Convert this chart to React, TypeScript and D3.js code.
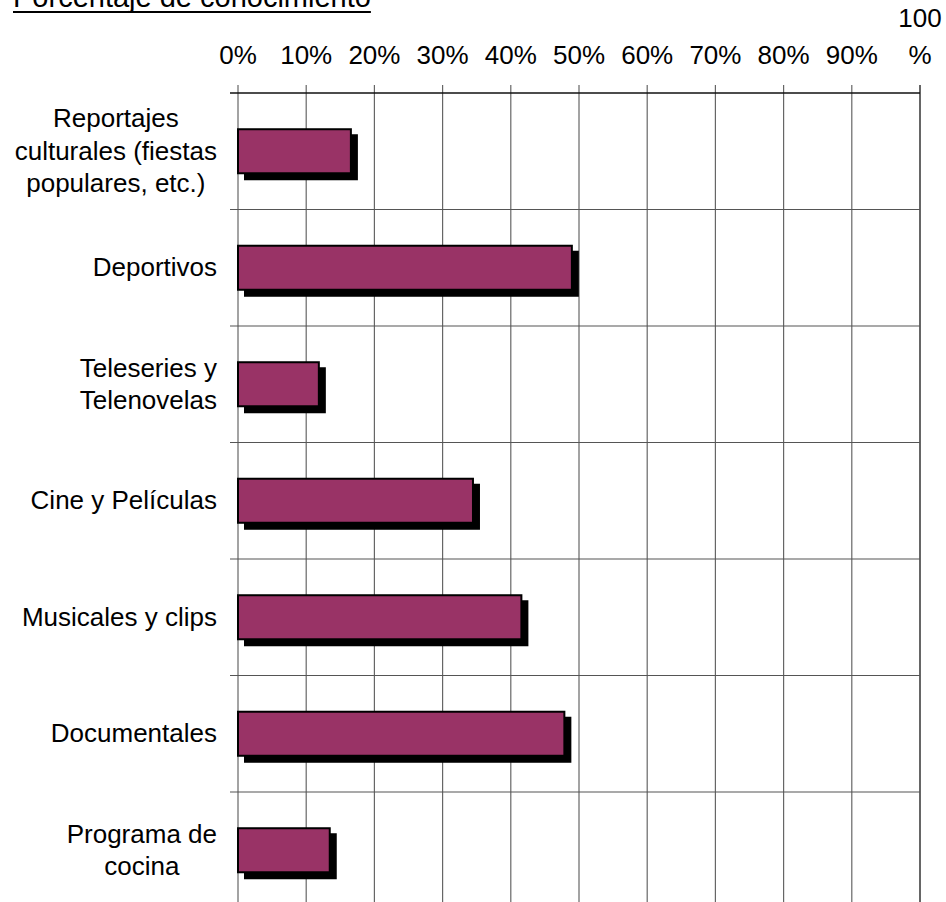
import React, { useRef, useEffect } from "react";
import * as d3 from "d3";

const categories = [
  "Reportajes\nculturales (fiestas\npopulares, etc.)",
  "Deportivos",
  "Teleseries y\nTelenovelas",
  "Cine y Películas",
  "Musicales y clips",
  "Documentales",
  "Programa de\ncocina",
];

const values = [0.167, 0.491, 0.12, 0.346, 0.417, 0.48, 0.136];

const tickValues = [0, 0.1, 0.2, 0.3, 0.4, 0.5, 0.6, 0.7, 0.8, 0.9, 1];
const tickLabels = ["0%", "10%", "20%", "30%", "40%", "50%", "60%", "70%", "80%", "90%", "100\n%"];

const title = "Porcentaje de conocimiento";

const App: React.FC = () => {
  const chartRef = useRef<SVGSVGElement>(null);

  useEffect(() => {
    if (!chartRef.current) return;
    const svg = d3.select(chartRef.current);
    svg.selectAll("*").remove();

    const font = "'Liberation Sans', Arial, Helvetica, sans-serif";
    const left = 238;
    const right = 920;
    const top = 93;
    const rowH = 116.5;
    const bottom = top + rowH * categories.length;

    const x = d3.scaleLinear().domain([0, 1]).range([left, right]);
    const y = d3.scaleBand().domain(categories).range([top, bottom]).padding(0);
    const barH = y.bandwidth() * 0.395;

    // title
    const t = svg
      .append("text")
      .attr("x", 13)
      .attr("y", 7)
      .attr("font-family", font)
      .attr("font-size", 29)
      .attr("fill", "#000")
      .text(title);
    const tw = (t.node() as SVGTextElement).getComputedTextLength();
    svg
      .append("line")
      .attr("x1", 13)
      .attr("x2", 13 + tw)
      .attr("y1", 12)
      .attr("y2", 12)
      .attr("stroke", "#000")
      .attr("stroke-width", 2);

    // vertical grid lines (with ticks above the top line)
    svg
      .append("g")
      .selectAll("line")
      .data(tickValues)
      .enter()
      .append("line")
      .attr("x1", (d) => x(d))
      .attr("x2", (d) => x(d))
      .attr("y1", top - 8)
      .attr("y2", bottom)
      .attr("stroke", (d) => (d === 1 ? "#333" : "#666"))
      .attr("stroke-width", (d) => (d === 1 ? 1.5 : 1.2));

    // horizontal lines at row boundaries
    svg
      .append("g")
      .selectAll("line")
      .data(categories)
      .enter()
      .append("line")
      .attr("x1", left - 8)
      .attr("x2", right)
      .attr("y1", (d) => y(d) || 0)
      .attr("y2", (d) => y(d) || 0)
      .attr("stroke", (d, i) => (i === 0 ? "#111" : "#555"))
      .attr("stroke-width", (d, i) => (i === 0 ? 1.6 : 1.2));

    // tick labels
    const tl = svg
      .append("g")
      .attr("font-family", font)
      .attr("font-size", 26)
      .attr("text-anchor", "middle")
      .attr("fill", "#000");
    tickValues.forEach((v, i) => {
      const lines = tickLabels[i].split("\n");
      const txt = tl.append("text");
      lines.forEach((ln, j) => {
        txt
          .append("tspan")
          .attr("x", x(v))
          .attr("y", 64 - (lines.length - 1 - j) * 37)
          .text(ln);
      });
    });

    // category labels
    const cl = svg
      .append("g")
      .attr("font-family", font)
      .attr("font-size", 26)
      .attr("text-anchor", "middle")
      .attr("fill", "#000");
    categories.forEach((c) => {
      const lines = c.split("\n");
      const lh = 32.5;
      const cy = (y(c) || 0) + y.bandwidth() / 2;
      const txt = cl.append("text");
      const spans = lines.map((ln, j) =>
        txt
          .append("tspan")
          .attr("y", cy + 8.7 + (j - (lines.length - 1) / 2) * lh)
          .text(ln)
      );
      const maxW = d3.max(spans, (s) => (s.node() as SVGTSpanElement).getComputedTextLength()) || 0;
      spans.forEach((s) => s.attr("x", 217 - maxW / 2));
    });

    // bar shadows
    const off = 6;
    svg
      .append("g")
      .selectAll("rect")
      .data(values)
      .enter()
      .append("rect")
      .attr("x", x(0) + off)
      .attr("y", (d, i) => (y(categories[i]) || 0) + (y.bandwidth() - barH) / 2 + off)
      .attr("width", (d) => x(d) - x(0))
      .attr("height", barH)
      .attr("fill", "#000");

    // bars
    svg
      .append("g")
      .selectAll("rect")
      .data(values)
      .enter()
      .append("rect")
      .attr("x", x(0))
      .attr("y", (d, i) => (y(categories[i]) || 0) + (y.bandwidth() - barH) / 2 + 1)
      .attr("width", (d) => x(d) - x(0) - 1)
      .attr("height", barH - 2)
      .attr("fill", "#993366")
      .attr("stroke", "#000")
      .attr("stroke-width", 2);
  }, []);

  return (
    <svg
      ref={chartRef}
      width={946}
      height={902}
      style={{ position: "absolute", left: 0, top: 0, background: "#fff" }}
    ></svg>
  );
};

export default App;
